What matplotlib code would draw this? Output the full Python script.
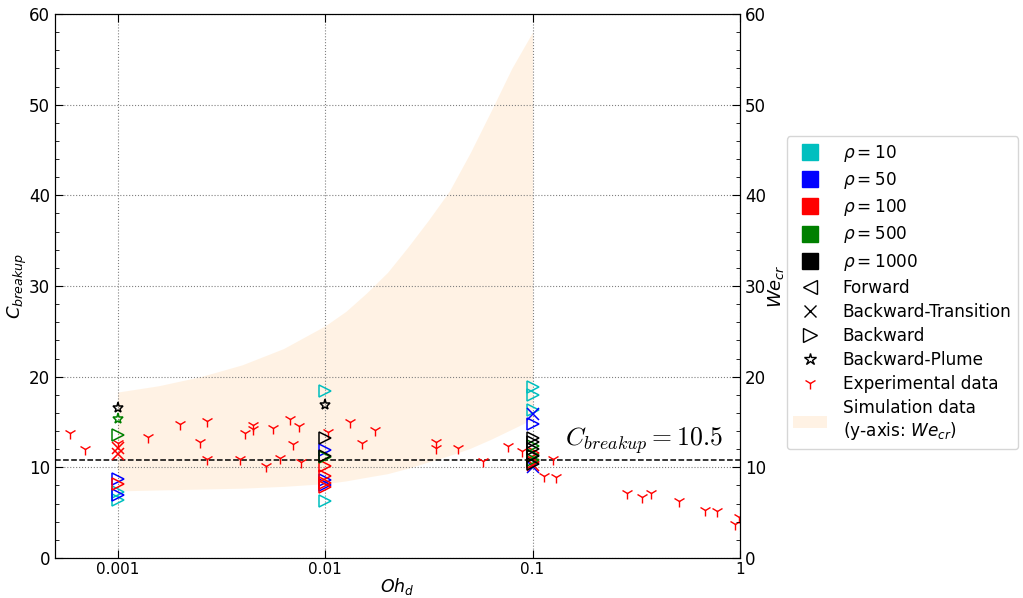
import matplotlib
matplotlib.use("Agg")
import matplotlib.pyplot as plt
import numpy as np
from matplotlib.lines import Line2D
from matplotlib.patches import Patch
from matplotlib.ticker import FixedLocator, FixedFormatter, MultipleLocator, NullLocator

# experimental data (Oh_d, C_breakup)
exp_oh = [0.00059, 0.0007, 0.001, 0.0014, 0.002, 0.0025, 0.0027, 0.0027, 0.0039, 0.0041,
          0.0045, 0.0045, 0.0052, 0.0056, 0.0061, 0.0068, 0.007, 0.0075, 0.0077, 0.0103,
          0.0132, 0.0151, 0.0175, 0.0344, 0.0344, 0.0437, 0.058, 0.0759, 0.089, 0.113,
          0.126, 0.13, 0.284, 0.337, 0.373, 0.509, 0.679, 0.774, 0.946, 0.99]
exp_c = [13.8, 12.0, 12.7, 13.4, 14.8, 12.8, 15.1, 10.9, 10.9, 13.8,
         14.7, 14.2, 10.1, 14.3, 11.0, 15.3, 12.6, 14.6, 10.6, 13.9,
         15.0, 12.7, 14.1, 12.8, 12.1, 12.1, 10.7, 12.3, 11.8, 9.0,
         10.9, 8.9, 7.2, 6.7, 7.2, 6.3, 5.3, 5.2, 3.7, 4.5]

# simulation band (y-axis: We_cr), read every 0.1 decade
band_oh = [0.001, 0.00158, 0.00251, 0.00398, 0.00631, 0.01, 0.0126, 0.0158, 0.02,
           0.0251, 0.0316, 0.0398, 0.0501, 0.0631, 0.0794, 0.1]
band_low = [7.4, 7.5, 7.6, 7.7, 7.9, 8.2, 8.5, 8.9, 9.3, 9.9, 10.6, 11.3, 12.1, 13.1, 14.2, 15.3]
band_high = [18.3, 19.0, 20.0, 21.3, 23.1, 25.6, 27.2, 29.2, 31.5, 34.3, 37.3, 40.5, 44.7,
             49.3, 54.0, 58.0]

# simulation cases: (Oh_d, C_breakup, regime) per density ratio
rho_labels = [r"$\rho = 10$", r"$\rho = 50$", r"$\rho = 100$", r"$\rho = 500$", r"$\rho = 1000$"]
rho_colors = ["c", "b", "r", "g", "k"]
sim_cases = {
    "c": [(0.001, 7.3, ">"), (0.001, 6.4, ">"), (0.01, 18.4, ">"), (0.01, 6.3, ">"),
          (0.1, 18.9, ">"), (0.1, 18.0, ">"), (0.1, 16.3, ">")],
    "b": [(0.001, 8.7, ">"), (0.001, 6.9, ">"), (0.01, 11.9, ">"), (0.01, 8.6, ">"),
          (0.01, 8.0, ">"), (0.1, 15.9, "x"), (0.1, 14.8, ">"), (0.1, 10.0, "x")],
    "r": [(0.001, 8.2, ">"), (0.001, 12.1, "x"), (0.001, 11.5, "x"), (0.01, 10.1, ">"),
          (0.01, 9.0, ">"), (0.01, 8.3, ">"), (0.01, 7.8, ">"), (0.1, 10.6, ">"),
          (0.1, 11.6, ">"), (0.1, 10.3, "x")],
    "g": [(0.001, 15.3, "*"), (0.001, 13.6, ">"), (0.01, 11.1, ">"), (0.1, 12.3, ">"),
          (0.1, 11.4, ">"), (0.1, 10.8, ">")],
    "k": [(0.001, 16.5, "*"), (0.01, 16.9, "*"), (0.01, 13.2, ">"), (0.01, 11.3, ">"),
          (0.1, 13.2, ">"), (0.1, 12.8, ">"), (0.1, 12.0, ">"), (0.1, 11.2, ">"),
          (0.1, 10.4, ">")],
}
regime_labels = ["Forward", "Backward-Transition", "Backward", "Backward-Plume"]
regime_markers = ["<", "x", ">", "*"]

c_breakup = 10.8

fig = plt.figure(figsize=(10.23, 5.98), dpi=100)
ax = fig.add_axes([0.0538, 0.0669, 0.6696, 0.9097])

ax.fill_between(band_oh, band_low, band_high, color="bisque", alpha=0.45, lw=0, zorder=0)
ax.plot(exp_oh, exp_c, linestyle="none", marker="1", color="red", markersize=8.5, mew=1.0, zorder=3)

for col, cases in sim_cases.items():
    for oh, c, m in cases:
        if m == "x":
            ax.plot(oh, c, marker=m, color=col, markersize=8, mew=1.1, linestyle="none", zorder=4)
        else:
            ms = 8 if m == "*" else 9
            ax.plot(oh, c, marker=m, markerfacecolor="none", markeredgecolor=col,
                    markersize=ms, mew=1.1, linestyle="none", zorder=4)

ax.axhline(c_breakup, color="k", linestyle="--", lw=1.1, zorder=2)
ax.text(0.143, 12.4, r"$C_{breakup} = 10.5$", fontsize=18.5, math_fontfamily="cm")

ax.set_xscale("log")
ax.set_xlim(0.0005, 1)
ax.set_ylim(0, 60)
ax.xaxis.set_major_locator(FixedLocator([0.001, 0.01, 0.1, 1]))
ax.xaxis.set_major_formatter(FixedFormatter(["0.001", "0.01", "0.1", "1"]))
ax.xaxis.set_minor_locator(NullLocator())
ax.yaxis.set_major_locator(MultipleLocator(10))
ax.yaxis.set_minor_locator(MultipleLocator(2))
ax.tick_params(which="both", direction="in", top=True, labelsize=12)
ax.tick_params(which="major", length=6)
ax.tick_params(which="minor", length=3)
ax.tick_params(axis="x", pad=3, labelsize=11)
ax.grid(True, which="major", linestyle=":", color="gray", lw=0.8)
ax.set_xlabel(r"$Oh_d$", fontsize=12.5, labelpad=-1)
ax.set_ylabel(r"$C_{breakup}$", fontsize=13, labelpad=0)

ax2 = ax.twinx()
ax2.set_ylim(0, 60)
ax2.yaxis.set_major_locator(MultipleLocator(10))
ax2.yaxis.set_minor_locator(MultipleLocator(2))
ax2.tick_params(which="both", direction="in", labelsize=12)
ax2.tick_params(which="major", length=6)
ax2.tick_params(which="minor", length=3)
ax2.set_ylabel(r"$We_{cr}$", fontsize=13, labelpad=0)

handles = []
for lab, col in zip(rho_labels, rho_colors):
    handles.append(Line2D([], [], marker="s", color=col, linestyle="none", markersize=11, label=lab))
for lab, m in zip(regime_labels, regime_markers):
    if m == "x":
        handles.append(Line2D([], [], marker=m, color="k", linestyle="none", markersize=9, label=lab))
    else:
        handles.append(Line2D([], [], marker=m, markerfacecolor="none", markeredgecolor="k",
                              linestyle="none", markersize=9 if m == "*" else 10, label=lab))
handles.append(Line2D([], [], marker="1", color="red", linestyle="none", markersize=9, label="Experimental data"))
handles.append(Patch(facecolor="bisque", alpha=0.45, label="Simulation data\n(y-axis: $We_{cr}$)"))

ax.legend(handles=handles, loc="upper left", bbox_to_anchor=(1.068, 0.775), fontsize=12.2,
          labelspacing=0.36, handletextpad=0.9, borderaxespad=0)

fig.savefig("out.png", dpi=100)
